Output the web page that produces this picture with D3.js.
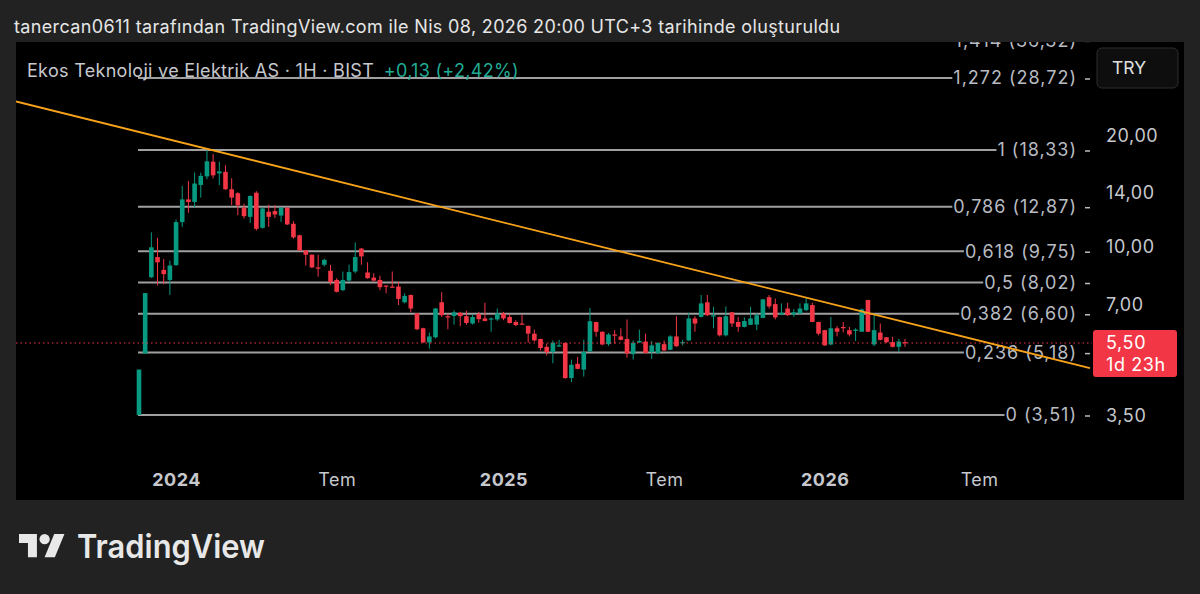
<!DOCTYPE html>
<html>
<head>
<meta charset="utf-8">
<script src="https://cdn.jsdelivr.net/npm/d3@7/dist/d3.min.js"></script>
<style>
body { margin: 0; background: #222222; }
svg { display: block; font-family: Inter, "Noto Sans", sans-serif; }
</style>
</head>
<body>
<svg></svg>
<script>
// ================================ DATA (weekly candles) ================================
const opens = [3.51,5.15,8.29,9.40,8.68,8.15,8.94,11.69,13.47,13.25,
  14.74,15.55,17.04,15.84,16.00,14.35,14.00,12.79,12.08,14.04,
  11.28,12.47,12.52,12.18,12.79,11.57,10.77,9.80,9.54,8.81,
  8.96,8.63,8.15,7.65,8.12,8.59,9.91,8.54,8.27,8.15,
  7.87,7.82,7.82,7.09,7.42,6.62,6.03,5.52,5.70,7.09,
  6.50,6.51,6.64,6.50,6.21,6.59,6.41,6.37,6.37,6.61,
  6.47,6.27,6.21,6.12,5.83,5.64,5.37,5.20,5.39,5.50,
  4.42,4.83,4.66,5.22,6.27,5.90,5.46,5.80,5.73,5.64,
  5.13,5.52,5.55,5.20,5.17,5.46,5.27,5.73,5.50,5.59,
  6.41,6.47,7.09,6.50,6.47,5.77,6.66,6.27,6.08,6.16,
  6.17,6.43,7.32,7.01,6.57,6.82,6.57,6.61,6.75,6.97,
  6.27,5.96,5.45,6.03,6.08,5.96,5.93,5.90,7.19,5.45,
  5.87,5.70,5.53,5.37,5.53];
const highs = [4.66,7.51,10.97,10.59,9.28,9.20,11.88,14.65,15.12,15.92,
  15.92,18.36,17.87,17.04,16.68,15.38,14.10,13.12,13.81,14.18,
  12.83,13.03,13.00,12.81,12.83,11.76,10.80,9.82,9.56,9.54,
  9.30,8.96,8.24,8.59,8.96,10.30,9.95,9.10,8.50,8.37,
  7.88,8.59,8.06,7.50,7.44,6.63,6.05,5.87,6.84,7.55,
  6.61,6.75,6.68,6.73,6.57,6.68,7.07,6.45,6.82,6.68,
  6.59,6.34,6.57,6.13,5.98,5.65,5.48,5.59,5.61,5.53,
  4.96,5.04,5.61,6.84,6.28,5.91,5.85,5.96,6.03,6.37,
  5.59,5.98,5.83,5.57,5.53,5.59,5.77,6.50,5.61,6.64,
  6.50,7.42,7.42,6.89,6.48,6.91,6.67,6.47,6.45,6.89,
  6.62,7.24,7.42,7.26,7.04,7.07,6.79,7.04,7.32,7.07,
  6.28,5.97,6.47,6.11,6.27,6.08,6.03,6.82,7.20,6.61,
  6.21,5.71,5.72,5.64,5.64];
const lows = [3.51,5.15,8.25,7.87,7.93,7.42,8.90,11.35,12.39,12.80,
  13.62,15.28,15.35,14.72,14.29,13.00,12.21,11.95,11.64,11.09,
  11.23,11.35,12.00,11.69,11.48,10.54,9.78,8.92,8.78,8.32,
  8.86,7.90,7.54,7.60,8.06,8.50,8.96,8.21,8.07,7.65,
  7.50,7.78,6.97,7.04,6.66,5.96,5.50,5.31,5.66,6.47,
  5.99,6.17,6.11,6.16,6.17,6.24,6.30,5.90,6.31,6.34,
  6.21,6.11,6.15,5.51,5.55,5.25,5.09,4.85,5.37,4.40,
  4.31,4.67,4.46,5.20,5.72,5.42,5.40,5.48,5.59,5.02,
  4.96,5.50,5.15,4.98,5.13,5.23,5.26,5.37,5.42,5.57,
  5.90,6.45,6.51,6.03,5.73,5.73,6.08,5.90,6.06,6.15,
  5.96,6.42,6.82,6.37,6.54,6.51,6.47,6.60,6.71,6.26,
  5.77,5.40,5.42,5.73,5.87,5.73,5.57,5.89,5.89,5.39,
  5.59,5.50,5.35,5.20,5.37];
const closes = [4.66,7.51,9.99,9.10,8.45,8.92,11.69,13.47,13.25,14.87,
  15.60,17.08,15.65,16.04,14.35,13.62,12.98,12.13,13.76,11.21,
  12.73,12.08,12.26,12.79,11.52,10.63,9.80,9.54,8.81,8.74,
  9.24,8.04,7.57,8.15,8.56,9.40,9.44,8.24,8.12,7.79,
  7.82,7.79,7.24,7.38,6.82,5.99,5.52,5.73,6.82,6.54,
  6.45,6.66,6.50,6.23,6.47,6.38,6.31,6.41,6.61,6.41,
  6.23,6.15,6.17,5.83,5.59,5.33,5.19,5.51,5.42,4.42,
  4.80,4.68,5.20,6.30,5.90,5.45,5.80,5.77,5.61,5.15,
  5.51,5.57,5.17,5.42,5.50,5.25,5.73,5.39,5.53,6.41,
  6.21,7.04,6.54,6.54,5.77,6.50,6.21,6.08,6.31,6.41,
  6.54,7.22,6.91,6.45,6.64,6.54,6.66,6.82,7.04,6.27,
  5.83,5.42,6.03,5.90,6.03,5.80,5.98,6.78,5.90,5.96,
  5.61,5.53,5.37,5.55,5.50];

const fibLevels = [0, 0.236, 0.382, 0.5, 0.618, 0.786, 1, 1.272, 1.414];
const fibPrices = [3.51, 5.18, 6.60, 8.02, 9.75, 12.87, 18.33, 28.72, 36.32];
const priceTicks = [3.5, 7, 10, 14, 20];
const timeTickIdx = [6, 32, 59, 85, 111, 136];
const timeTickLabels = ["2024", "Tem", "2025", "Tem", "2026", "Tem"];
const trendIdx = [11, 119];
const trendPrice = [18.46, 6.57];
const lastPrice = 5.50;
const barCountdown = "1d 23h";

// ================================ SETUP ================================
var width = 1200, height = 594;
var panel = {x: 16, y: 42, w: 1168, h: 458};

const tr = d3.formatLocale({decimal: ",", thousands: ".", grouping: [3], currency: ["", ""]});
const fmtPrice = tr.format(".2f");
const fmtLevel = tr.format(".4~f");

const xs = d3.scaleLinear().domain([0, opens.length - 1]).range([139, 905]);
const ys = d3.scaleLog().domain([fibPrices[0], fibPrices[6]]).range([415, 150]);

const svg = d3.select("svg").attr("width", width).attr("height", height);

svg.append("rect").attr("width", width).attr("height", height).attr("fill", "#222222");

// title
svg.append("text")
  .attr("x", 14).attr("y", 33)
  .attr("fill", "#e6e6e6").attr("font-size", 18).attr("letter-spacing", 0.35)
  .text("tanercan0611 tarafından TradingView.com ile Nis 08, 2026 20:00 UTC+3 tarihinde oluşturuldu");

// chart panel
svg.append("clipPath").attr("id", "clip")
  .append("rect").attr("x", panel.x).attr("y", panel.y).attr("width", panel.w).attr("height", panel.h);
svg.append("rect")
  .attr("x", panel.x).attr("y", panel.y).attr("width", panel.w).attr("height", panel.h)
  .attr("fill", "#000");

const g = svg.append("g").attr("clip-path", "url(#clip)");

// ================================ FIB RETRACEMENT ================================
const fib = g.append("g");
fibLevels.forEach(function(l, i) {
  var y = ys(fibPrices[i]);
  var t = fib.append("text")
    .attr("x", 1077).attr("y", y).attr("dy", "0.35em")
    .attr("text-anchor", "end")
    .attr("fill", "#b8bbc2").attr("font-size", 18).attr("letter-spacing", 1)
    .text(fmtLevel(l) + " (" + fmtPrice(fibPrices[i]) + ")");
  var tw = t.node().getComputedTextLength();
  fib.insert("line", "text")
    .attr("x1", xs(0) - 1).attr("x2", 1077 - tw - 1)
    .attr("y1", y).attr("y2", y)
    .attr("stroke", "#a0a0a0").attr("stroke-width", 2);
  fib.append("line")
    .attr("x1", 1085).attr("x2", 1090).attr("y1", y + 1).attr("y2", y + 1)
    .attr("stroke", "#b8bbc2").attr("stroke-width", 1.5);
});

// ================================ CANDLES ================================
const idx = d3.range(opens.length);
const candles = g.append("g").selectAll("g").data(idx).enter().append("g")
  .attr("fill", d => closes[d] >= opens[d] ? "#089981" : "#f23645")
  .attr("stroke", d => closes[d] >= opens[d] ? "#089981" : "#f23645");

candles.append("line")
  .attr("x1", d => xs(d)).attr("x2", d => xs(d))
  .attr("y1", d => ys(highs[d])).attr("y2", d => ys(lows[d]))
  .attr("stroke-width", 1);

candles.append("rect")
  .attr("stroke", "none")
  .attr("x", d => xs(d) - 2.3).attr("width", 4.6)
  .attr("y", d => ys(Math.max(opens[d], closes[d])))
  .attr("height", d => Math.max(1.2, ys(Math.min(opens[d], closes[d])) - ys(Math.max(opens[d], closes[d]))));

// last price dotted line
g.append("line")
  .attr("x1", panel.x).attr("x2", 1092)
  .attr("y1", ys(lastPrice)).attr("y2", ys(lastPrice))
  .attr("stroke", "#f23645").attr("stroke-width", 1).attr("stroke-dasharray", "1.5,3");

// ================================ TREND LINE ================================
var p1 = [xs(trendIdx[0]), ys(trendPrice[0])];
var p2 = [xs(trendIdx[1]), ys(trendPrice[1])];
var slope = (p2[1] - p1[1]) / (p2[0] - p1[0]);
g.append("line")
  .attr("x1", panel.x).attr("y1", p1[1] + (panel.x - p1[0]) * slope)
  .attr("x2", 1090).attr("y2", p1[1] + (1090 - p1[0]) * slope)
  .attr("stroke", "#f7a21b").attr("stroke-width", 1.8);

// ================================ LEGEND ================================
const legend = svg.append("text").attr("x", 27).attr("y", 77).attr("font-size", 18).attr("letter-spacing", 0.3);
legend.append("tspan").attr("fill", "#c6c8cd").text("Ekos Teknoloji ve Elektrik AS · 1H · BIST");
legend.append("tspan").attr("dx", 11).attr("fill", "#22ab94").text("+0,13 (+2,42%)");

// TRY button
svg.append("rect")
  .attr("x", 1097).attr("y", 48).attr("width", 81).attr("height", 40).attr("rx", 5)
  .attr("fill", "#0e0e0e").attr("stroke", "#2e2e2e");
svg.append("text")
  .attr("x", 1112).attr("y", 68).attr("dy", "0.35em")
  .attr("fill", "#e0e0e0").attr("font-size", 17.5).text("TRY");

// ================================ AXES ================================
svg.append("g")
  .attr("transform", "translate(1106,0)")
  .call(d3.axisRight(ys).tickValues(priceTicks).tickFormat(fmtPrice).tickSize(0).tickPadding(0))
  .call(a => a.select(".domain").remove())
  .selectAll("text")
  .attr("fill", "#c6c8cd").attr("font-size", 18).attr("letter-spacing", 0.6)
  .attr("font-family", "Inter, sans-serif");

svg.append("g")
  .attr("transform", "translate(0,480)")
  .call(d3.axisBottom(xs).tickValues(timeTickIdx).tickFormat((d, i) => timeTickLabels[i]).tickSize(0))
  .call(a => a.select(".domain").remove())
  .selectAll("text")
  .attr("y", 0).attr("dy", "0.35em")
  .attr("fill", "#c6c8cd").attr("font-size", 18).attr("letter-spacing", 0.5)
  .attr("font-family", "Inter, sans-serif")
  .attr("font-weight", (d, i) => timeTickLabels[i] === "Tem" ? 400 : 700);

// current price label
svg.append("rect")
  .attr("x", 1093).attr("y", 330).attr("width", 84).attr("height", 47).attr("rx", 3)
  .attr("fill", "#f23645");
svg.append("text")
  .attr("x", 1106).attr("y", ys(lastPrice)).attr("dy", "0.35em")
  .attr("fill", "#fff").attr("font-size", 18).attr("letter-spacing", 0.6).text(fmtPrice(lastPrice));
svg.append("text")
  .attr("x", 1106).attr("y", 365).attr("dy", "0.35em")
  .attr("fill", "#fff").attr("font-size", 18).attr("letter-spacing", 0.6).text(barCountdown);

// ================================ LOGO ================================
const logo = svg.append("g").attr("transform", "translate(19,529) scale(1.28)").attr("fill", "#e8e8e8");
logo.append("path").attr("d", "M14 22H7V11H0V4h14v18zM28 22h-8l7.5-18h8L28 22z");
logo.append("circle").attr("cx", 20).attr("cy", 8).attr("r", 4);
svg.append("text")
  .attr("x", 77).attr("y", 558)
  .attr("fill", "#e8e8e8").attr("font-size", 33).attr("font-weight", 600)
  .attr("textLength", 188).attr("lengthAdjust", "spacingAndGlyphs")
  .text("TradingView");
</script>
</body>
</html>
